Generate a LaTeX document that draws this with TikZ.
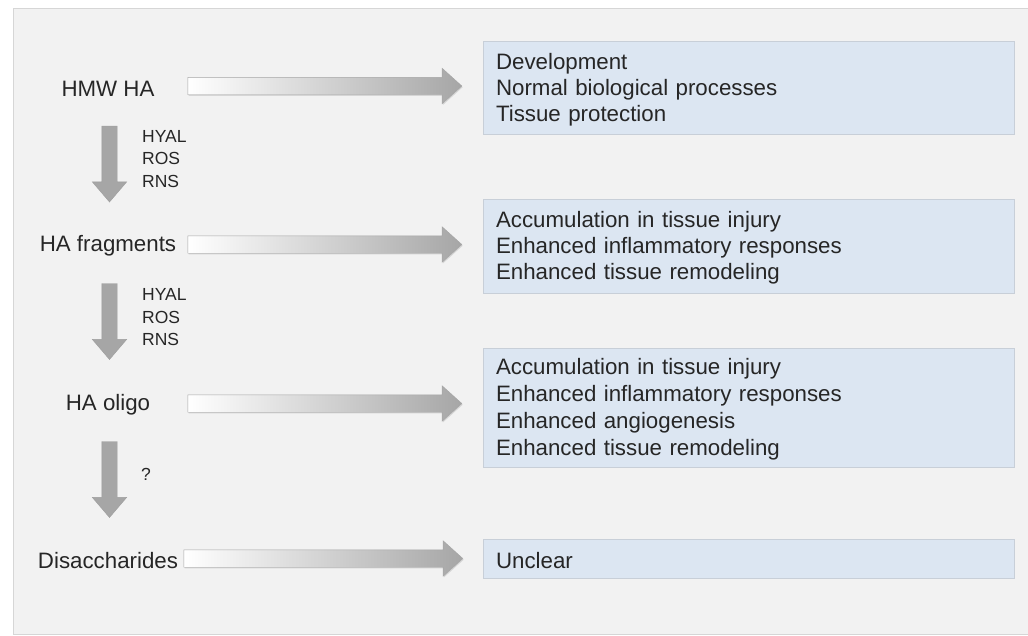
\documentclass[tikz,border=0pt]{standalone}
\usepackage{fontspec}
\setmainfont{Liberation Sans}
\usetikzlibrary{shapes.arrows,shadows}
\usepackage{xcolor}

\definecolor{panelgray}{HTML}{F2F2F2}
\definecolor{panelline}{HTML}{D6D6D6}
\definecolor{boxblue}{HTML}{DCE6F2}
\definecolor{boxline}{HTML}{C8CFD8}
\definecolor{arrowgray}{HTML}{A6A6A6}
\definecolor{textdark}{HTML}{262626}

\begin{document}
\begin{tikzpicture}[x=1pt, y=-1pt,
    every node/.style={text=textdark},
    stage/.style={
        font=\fontsize{22.3}{26}\selectfont,
        anchor=base,
        inner sep=0pt
    },
    agents/.style={
        font=\fontsize{17.5}{22.3}\selectfont,
        anchor=base west,
        inner sep=0pt,
        align=left
    },
    effects/.style={
        rectangle,
        draw=boxline,
        fill=boxblue,
        font=\fontsize{22.3}{26}\selectfont,
        text width=505pt,
        inner xsep=13pt,
        inner ysep=0pt,
        align=left,
        execute at begin node={\rule{0pt}{20pt}},
        drop shadow={shadow xshift=0.8pt, shadow yshift=-1pt, opacity=0.18}
    },
    to_effect/.style={
        single arrow,
        single arrow head extend=9pt,
        single arrow tip angle=84,
        inner sep=8.5pt,
        minimum width=0pt,
        left color=white,
        right color=arrowgray,
        draw=black!35,
        line width=0.4pt,
        drop shadow={shadow xshift=0.8pt, shadow yshift=-1.2pt, opacity=0.25}
    },
    to_next/.style={
        single arrow,
        shape border rotate=270,
        single arrow head extend=9.5pt,
        single arrow tip angle=81,
        inner sep=7.5pt,
        minimum width=0pt,
        minimum height=76pt,
        fill=arrowgray,
        draw=black!38,
        line width=0.4pt
    }
]

    \useasboundingbox (0,0) rectangle (1028,635);

    % grey panel behind everything
    \draw[fill=panelgray, draw=panelline] (13,8) rectangle (1028,634);



    \node (hmw_ha) [stage] at (108,96) {HMW HA};

    \node (ha_fragments) [stage] at (108,251) {HA fragments};

    \node (ha_oligo) [stage] at (108,410) {HA oligo};

    \node (disaccharides) [stage] at (108,568) {Disaccharides};



    \node (effects_hmw_ha) [effects, minimum height=93pt] at (748.5,87.5)
    {
        Development\\
        Normal biological processes\\
        Tissue protection
    };

    \node (effects_ha_fragments) [effects, minimum height=94pt] at (748.5,246)
    {
        Accumulation in tissue injury\\
        Enhanced inflammatory responses\\
        Enhanced tissue remodeling
    };

    \node (effects_ha_oligo) [effects, minimum height=119pt, font=\fontsize{22.3}{27}\selectfont] at (748.5,407.5)
    {
        Accumulation in tissue injury\\
        Enhanced inflammatory responses\\
        Enhanced angiogenesis\\
        Enhanced tissue remodeling
    };

    \node (effects_disaccharides) [effects, minimum height=39pt] at (748.5,558.5)
    {
        Unclear
    };



    \node (arrow_hmw_ha) [to_effect, minimum height=274pt] at (320,86) {};

    \node (arrow_ha_fragments) [to_effect, minimum height=274pt] at (320,244.5) {};

    \node (arrow_ha_oligo) [to_effect, minimum height=274pt] at (320,403.5) {};

    \node (arrow_disaccharides) [to_effect, minimum height=279pt] at (318.5,558.5) {};



    \node (cut_hmw_ha) [to_next] at (109.5,159.5) {};

    \node (cut_ha_fragments) [to_next] at (109.5,317) {};

    \node (cut_ha_oligo) [to_next] at (109.5,475) {};

    \node (agents_hmw_ha) [agents] at (142,187) {HYAL\\ROS\\RNS};

    \node (agents_ha_fragments) [agents] at (142,345.5) {HYAL\\ROS\\RNS};

    \node (agents_ha_oligo) [agents] at (141,480) {?};


\end{tikzpicture}
\end{document}
